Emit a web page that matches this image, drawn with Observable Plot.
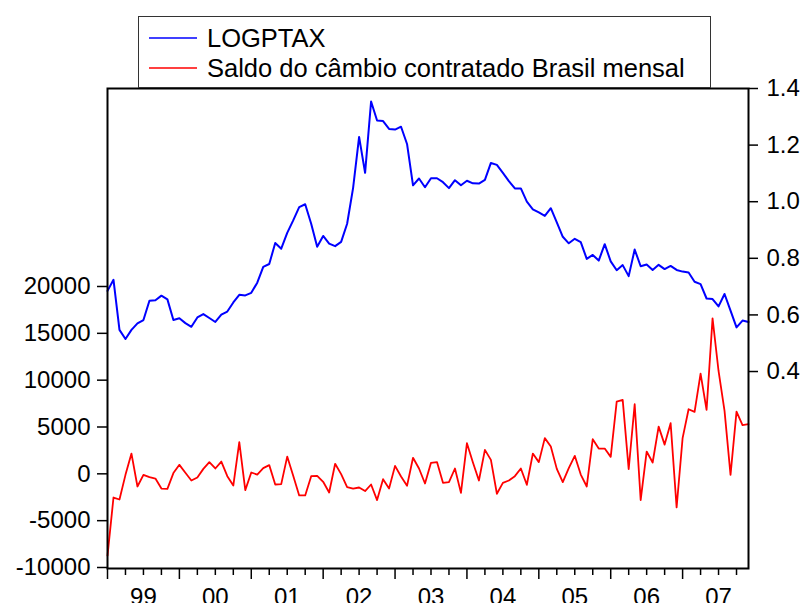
<!DOCTYPE html>
<html><head><meta charset="utf-8">
<script src="https://cdn.jsdelivr.net/npm/d3@7"></script>
<script src="https://cdn.jsdelivr.net/npm/@observablehq/plot@0.6"></script>
<style>body{margin:0;background:#fff} #chart{width:803px;height:603px;overflow:hidden}</style>
</head><body><div id="chart"></div>
<script>
const yearLabels = ["99","00","01","02","03","04","05","06","07"];
const seriesNames = ["LOGPTAX", "Saldo do câmbio contratado Brasil mensal"];
const seriesColors = ["#0000ff", "#ff0000"];
// LOGPTAX, monthly Jan 1999 - Dec 2007 (right axis)
const logptax = [
0.685,0.724,0.547,0.515,0.547,0.570,0.582,0.650,0.652,0.668,0.655,0.582,
0.588,0.571,0.558,0.591,0.603,0.589,0.575,0.601,0.612,0.644,0.671,0.669,
0.678,0.714,0.770,0.780,0.854,0.834,0.890,0.934,0.981,0.991,0.922,0.841,
0.879,0.852,0.843,0.858,0.922,1.049,1.229,1.102,1.354,1.287,1.285,1.257,
1.255,1.265,1.204,1.058,1.082,1.051,1.083,1.083,1.069,1.048,1.076,1.058,
1.074,1.065,1.064,1.077,1.137,1.130,1.102,1.073,1.047,1.047,1.000,0.973,
0.962,0.950,0.977,0.927,0.876,0.853,0.869,0.857,0.798,0.812,0.792,0.850,
0.789,0.758,0.776,0.737,0.831,0.772,0.778,0.759,0.777,0.762,0.773,0.759,
0.753,0.750,0.717,0.709,0.658,0.656,0.630,0.674,0.615,0.556,0.580,0.575];
// Saldo do câmbio contratado, monthly (left axis)
const saldo = [
-8740,-2530,-2740,-110,2160,-1350,-110,-350,-500,-1570,-1600,80,
960,110,-710,-390,530,1250,570,1310,-250,-1250,3380,-1740,
140,-80,610,930,-1140,-1100,1840,-210,-2310,-2310,-250,-210,
-850,-1990,1070,-30,-1420,-1570,-1460,-1840,-1140,-2800,-570,-1570,
850,-290,-1280,1710,570,-1030,1170,1250,-960,-890,570,-2030,
3270,1210,-710,2560,1490,-2130,-960,-710,-250,570,-1170,2160,
1250,3810,2910,530,-890,610,1920,-80,-1350,3700,2700,2700,
1810,7710,7890,500,7430,-2800,2380,1210,5040,3120,5410,-3590,
3810,6900,6610,10690,6820,16600,10980,6720,-110,6640,5190,5300];
const leftTicks = [-10000,-5000,0,5000,10000,15000,20000];
const rightTicks = [0.4,0.6,0.8,1.0,1.2,1.4];
const leftDomain = [-10107, 41138];
const rightDomain = [-0.296, 1.4];

const toLeft = d3.scaleLinear(rightDomain, leftDomain);
const n = logptax.length;
const data = d3.range(n).map(i => ({i, logptax: logptax[i], saldo: saldo[i]}));
const majorTicks = yearLabels.map((_, k) => k * 12);
const minorTicks = d3.range(0, n, 3).filter(m => m % 12 !== 0);
const labelPos = yearLabels.map((_, k) => k * 12 + 6);
const font = "'Liberation Sans', Arial, sans-serif";

const plot = Plot.plot({
  width: 803, height: 603,
  marginLeft: 107, marginRight: 55, marginTop: 88, marginBottom: 35,
  style: {fontFamily: font, fontSize: "24px", color: "#000", background: "#fff", overflow: "visible"},
  x: {domain: [0, n - 1]},
  y: {domain: leftDomain},
  marks: [
    Plot.line(data, {x: "i", y: d => toLeft(d.logptax), stroke: seriesColors[0], strokeWidth: 2}),
    Plot.line(data, {x: "i", y: "saldo", stroke: seriesColors[1], strokeWidth: 1.8}),
    Plot.frame({stroke: "#000", strokeWidth: 2}),
    Plot.axisY({ticks: leftTicks, tickSize: 10, tickPadding: 7, fontSize: 24, strokeWidth: 1.5, tickFormat: d => String(d), label: null}),
    Plot.axisY({anchor: "right", ticks: rightTicks.map(toLeft), tickSize: 9, tickPadding: 9, fontSize: 24, strokeWidth: 1.5,
      tickFormat: v => toLeft.invert(v).toFixed(1), label: null}),
    Plot.axisX({ticks: majorTicks, tickSize: 11, strokeWidth: 1.5, tickFormat: () => "", label: null}),
    Plot.axisX({ticks: minorTicks, tickSize: 7, strokeWidth: 1.5, tickFormat: () => "", label: null}),
    Plot.axisX({ticks: labelPos, tickSize: 0, tickPadding: 19, fontSize: 24, tickFormat: d => yearLabels[(d - 6) / 12], label: null})
  ]
});

// legend box above the plot frame
const svg = d3.select(plot);
const lg = svg.append("g").attr("font-family", font).attr("font-size", 25.5).attr("text-anchor", "start");
lg.append("rect").attr("x", 138.5).attr("y", 16.5).attr("width", 572).attr("height", 71)
  .attr("fill", "#fff").attr("stroke", "#333").attr("stroke-width", 1);
seriesNames.forEach((name, k) => {
  const yy = 38 + k * 30;
  lg.append("line").attr("x1", 149).attr("x2", 197).attr("y1", yy).attr("y2", yy)
    .attr("stroke", seriesColors[k]).attr("stroke-width", 1.5);
  lg.append("text").attr("x", 207).attr("y", yy + 9).attr("fill", "#000")
    .attr("text-anchor", "start").text(name);
});
document.getElementById("chart").appendChild(plot);
</script>
</body></html>
